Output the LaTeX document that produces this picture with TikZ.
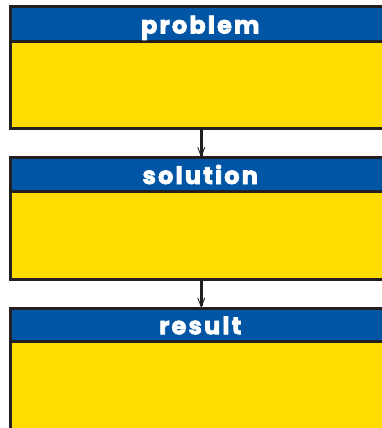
\documentclass[tikz,border=0pt]{standalone}
\usepackage{fontspec}
\newfontfamily\hdrfont{Poppins}[UprightFont=* Bold, FakeBold=3, LetterSpace=9]
\usetikzlibrary{arrows.meta}
\definecolor{hblue}{HTML}{0055A5}
\definecolor{byellow}{HTML}{FFDD00}
\definecolor{edge}{HTML}{231F20}
\tikzset{
  hdr/.style={rectangle, draw=edge, fill=hblue, line width=3pt, outer sep=0pt, inner sep=0pt,
    minimum width=379.5pt, text=white, font=\hdrfont\fontsize{24}{24}\selectfont, anchor=north west},
  body/.style={rectangle, draw=edge, fill=byellow, line width=3pt, outer sep=0pt, inner sep=0pt,
    minimum width=379.5pt, anchor=north west},
  arr/.style={draw=edge, line width=2.5pt, -{Straight Barb[length=9pt,width=7pt,line width=0.9pt]}}
}
\newcommand{\hdrtext}[1]{\raisebox{-9.5pt}[0pt][0pt]{#1}}
\begin{document}
\begin{tikzpicture}[x=1pt,y=-1pt]
\useasboundingbox (0,0) rectangle (382,428);
\clip (0,0) rectangle (382,428);
\node[body, minimum height=87pt] (b1) at (10.5,41.5) {};
\node[hdr, minimum height=35pt] (h1) at (10.5,6.5) {\hdrtext{problem}};
\node[body, minimum height=87.5pt] (b2) at (10.5,191.5) {};
\node[hdr, minimum height=34pt] (h2) at (10.5,157.5) {\hdrtext{solution}};
\node[body, minimum height=100pt] (b3) at (10.5,341.5) {};
\node[hdr, minimum height=33.5pt] (h3) at (10.5,308) {\hdrtext{result}};
\draw[arr] ([xshift=1pt]b1.south) -- ([xshift=1pt]h2.north);
\draw[arr] ([xshift=1pt]b2.south) -- ([xshift=1pt]h3.north);
\end{tikzpicture}
\end{document}
